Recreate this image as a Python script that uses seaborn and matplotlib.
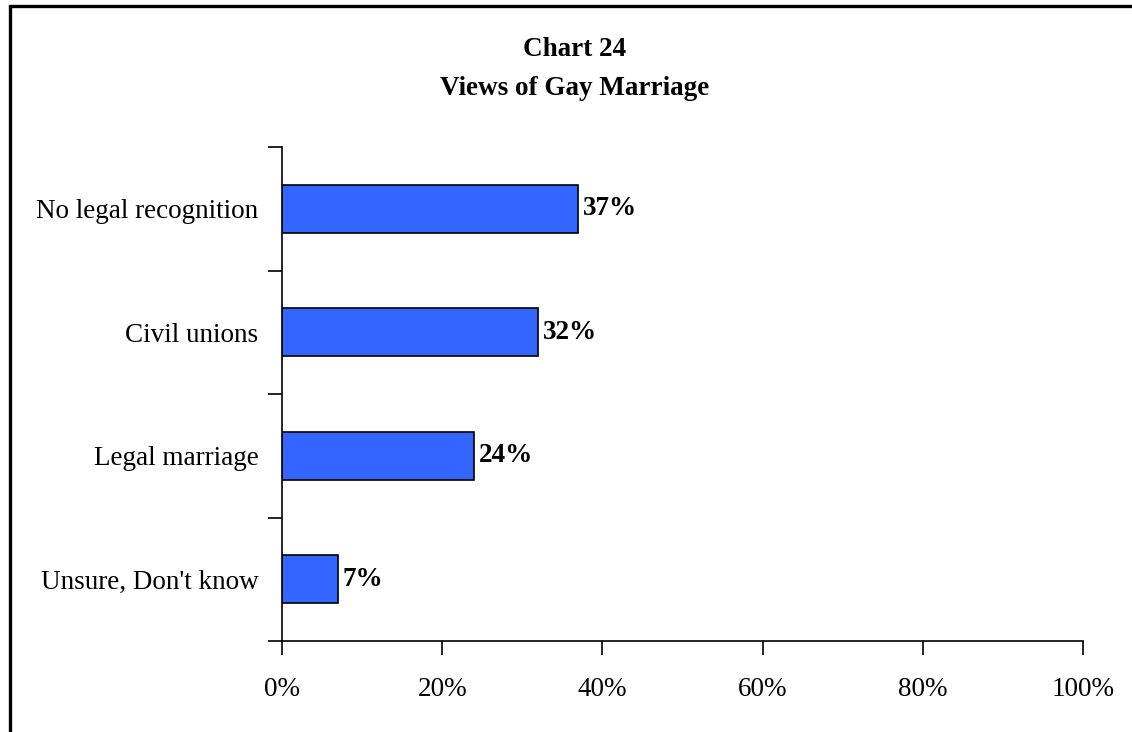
import matplotlib
matplotlib.use("Agg")
import matplotlib.pyplot as plt
from matplotlib.patches import Rectangle
from matplotlib.ticker import FixedLocator, PercentFormatter
import seaborn as sns
import pandas as pd

categories = ["No legal recognition", "Civil unions", "Legal marriage", "Unsure, Don't know"]
values = [37, 32, 24, 7]
x_ticks = [0, 20, 40, 60, 80, 100]

sns.set_theme(style="white")
plt.rcParams["font.family"] = ["Liberation Serif", "DejaVu Serif"]
plt.rcParams["text.color"] = "black"

df = pd.DataFrame({"view": categories, "pct": values})

fig = plt.figure(figsize=(11.32, 7.32), dpi=100)
ax = fig.add_axes([282 / 1132, 1 - 641 / 732, 801 / 1132, 494 / 732])

sns.barplot(data=df, x="pct", y="view", orient="h", color="#3366FF",
            saturation=1, width=0.39, edgecolor="black", linewidth=1.2, ax=ax)

ax.set_xlim(0, 100)
ax.set_ylim(len(categories) - 0.5, -0.5)
ax.set_xlabel("")
ax.set_ylabel("")

# only the left and bottom axis lines are drawn
for side in ["top", "right"]:
    ax.spines[side].set_visible(False)
for side in ["left", "bottom"]:
    ax.spines[side].set_color("black")
    ax.spines[side].set_linewidth(1.2)

ax.xaxis.set_major_locator(FixedLocator(x_ticks))
ax.xaxis.set_major_formatter(PercentFormatter(decimals=0))
ax.tick_params(axis="x", which="major", direction="out", length=10, width=1.2,
               color="black", bottom=True, labelsize=19.5, pad=16, labelcolor="black")

# category labels centred on bars, tick marks between categories
ax.yaxis.set_minor_locator(FixedLocator([i - 0.5 for i in range(len(categories) + 1)]))
ax.tick_params(axis="y", which="major", length=0, labelsize=19.5, pad=17, labelcolor="black")
ax.tick_params(axis="y", which="minor", direction="out", length=10, width=1.2,
               color="black", left=True)

for i, v in enumerate(values):
    ax.text(v + 0.6, i, f"{v}%", va="center", ha="left", fontsize=19.5,
            fontweight="bold", color="black")

fig.text(575 / 1132, 1 - 56 / 732, "Chart 24", ha="center",
         va="baseline", fontsize=19.5, fontweight="bold", color="black")
fig.text(575 / 1132, 1 - 95 / 732, "Views of Gay Marriage",
         ha="center", va="baseline", fontsize=19.5, fontweight="bold", color="black")

# outer frame around the chart area
fig.patches.append(Rectangle((9.5 / 1132, -0.5), 2, 1.5 - 5.5 / 732,
                             transform=fig.transFigure, fill=False,
                             edgecolor="black", linewidth=2.4))

fig.savefig("out.png", dpi=100)
